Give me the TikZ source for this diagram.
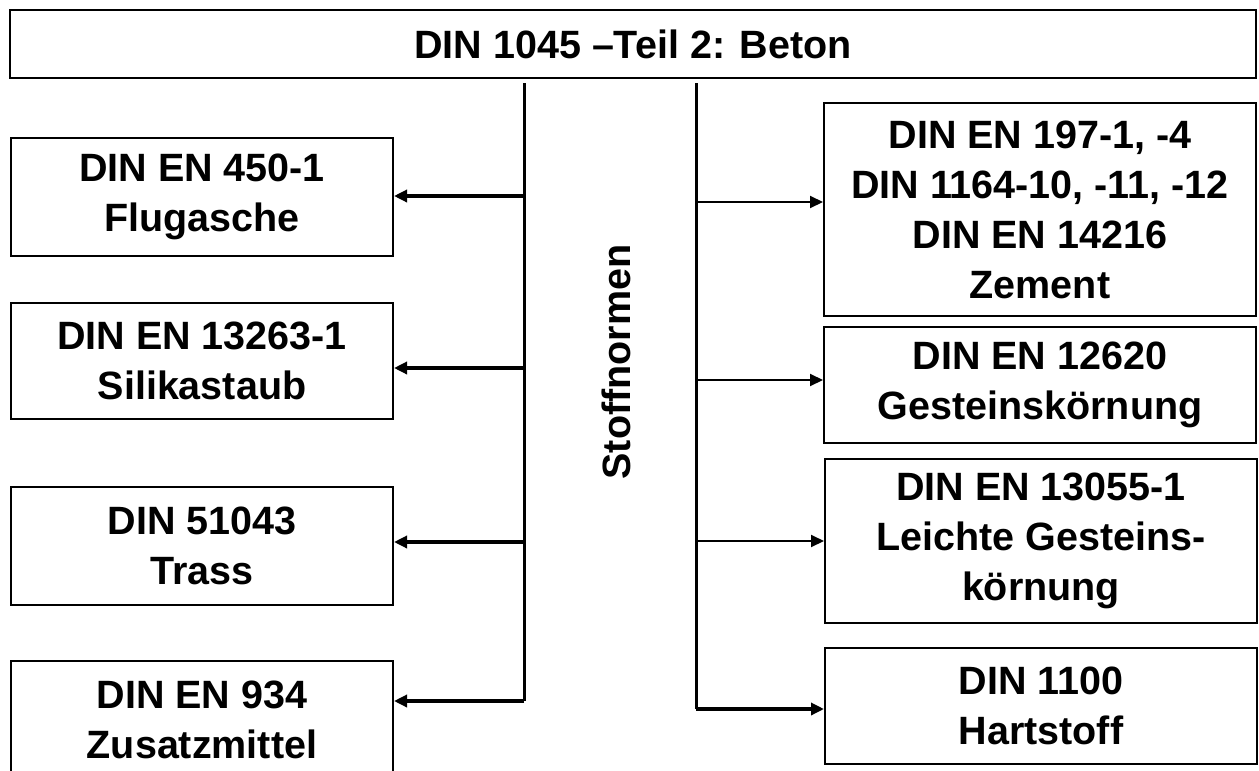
\documentclass[tikz,border=0pt]{standalone}
\usepackage{fontspec}
\setmainfont{Liberation Sans}
\usetikzlibrary{arrows.meta}
\tikzset{
  box/.style={draw=black, line width=2pt, rectangle, inner sep=0pt, align=center,
    font=\fontsize{39.5}{50}\selectfont\bfseries, fill=white},
  lbox/.style={box, minimum width=382pt},
  rbox/.style={box, minimum width=432pt},
  trunk/.style={line width=3pt},
  thickarr/.style={line width=3.5pt, -{Triangle[length=13pt,width=12pt]}},
  thinarr/.style={line width=2pt, -{Triangle[length=13pt,width=12pt]}},
}
\begin{document}
\begin{tikzpicture}[x=1pt,y=-1pt]
\useasboundingbox (0,0) rectangle (1259,771);
\clip (0,0) rectangle (1259,771);
% top box
\node[box, minimum width=1246pt, minimum height=68pt] (top) at (633,44) {DIN 1045 --Teil 2: Beton};
% left boxes
\node[lbox, minimum height=118pt] (l1) at (202,197) {DIN EN 450-1\\Flugasche};
\node[lbox, minimum height=116pt] (l2) at (202,361) {DIN EN 13263-1\\Silikastaub};
\node[lbox, minimum height=118pt] (l3) at (202,546) {DIN 51043\\Trass};
\node[lbox, minimum height=118pt] (l4) at (202,720) {DIN EN 934\\Zusatzmittel};
% right boxes
\node[rbox, minimum height=213pt] (r1) at (1040,209.5) {DIN EN 197-1, -4\\DIN 1164-10, -11, -12\\DIN EN 14216\\Zement};
\node[rbox, minimum height=116pt] (r2) at (1040,385) {DIN EN 12620\\Gesteinskörnung};
\node[rbox, minimum height=164pt] (r3) at (1041,541) {DIN EN 13055-1\\Leichte Gesteins-\\körnung};
\node[rbox, minimum height=116pt] (r4) at (1041,706) {DIN 1100\\Hartstoff};
% label
\node[rotate=90, font=\fontsize{39.5}{50}\selectfont\bfseries, inner sep=0pt] (lab) at (616,362) {Stoffnormen};
% trunks
\coordinate (lt) at (524,83);
\coordinate (lb) at (524,701);
\coordinate (rt) at (696,83);
\coordinate (rb) at (696,709);
\draw[trunk] (lt) -- (lb);
\draw[trunk] (rt) -- (rb);
% left arrows
\coordinate (la1) at (524,196);
\coordinate (la2) at (524,368);
\coordinate (la3) at (524,542);
\draw[thickarr] (la1) -- (l1.east |- la1);
\draw[thickarr] (la2) -- (l2.east |- la2);
\draw[thickarr] (la3) -- (l3.east |- la3);
\draw[thickarr] (lb) -- (l4.east |- lb);
% right arrows
\coordinate (ra1) at (696,202);
\coordinate (ra2) at (696,380);
\coordinate (ra3) at (696,541);
\draw[thinarr] (ra1) -- (r1.west |- ra1);
\draw[thinarr] (ra2) -- (r2.west |- ra2);
\draw[thinarr] (ra3) -- (r3.west |- ra3);
\draw[thickarr] (rb) -- (r4.west |- rb);
\end{tikzpicture}
\end{document}
